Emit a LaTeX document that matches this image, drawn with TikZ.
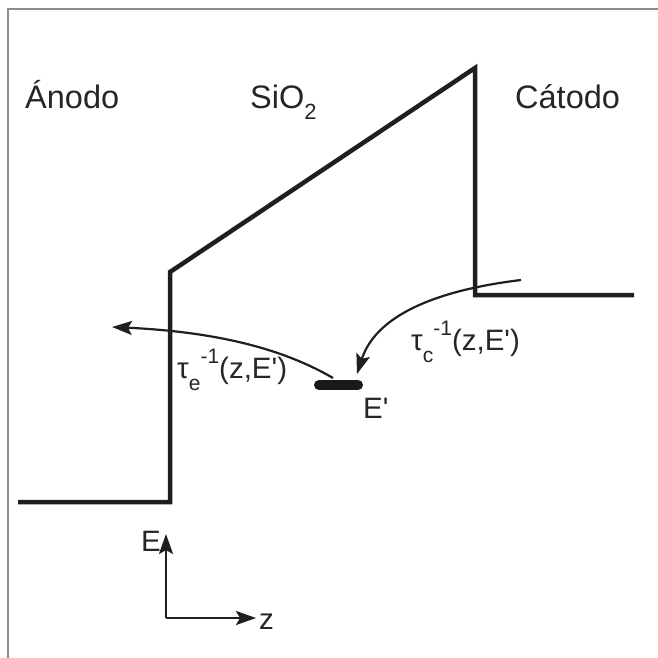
\documentclass[tikz,border=0pt]{standalone}
\usepackage{fontspec}
\newfontfamily\arialf{Liberation Sans}
\usetikzlibrary{arrows.meta}
\tikzset{
  band/.style={line width=4.5pt, draw=black!88, line join=miter},
  tipstyle/.style={-{Stealth[length=20pt,width=14pt,inset=4pt]}},
  conn/.style={line width=2.2pt, draw=black!88, tipstyle},
  axis/.style={line width=2.4pt, draw=black!88, tipstyle},
  title/.style={anchor=base west, inner sep=0pt, font=\arialf\fontsize{32.5}{38}\selectfont, text=black!85},
  lab/.style={anchor=base west, inner sep=0pt, font=\arialf\fontsize{29.5}{34}\selectfont, text=black!85},
  frameline/.style={line width=1.5pt, draw=black!45}
}
\newcommand{\smallt}[1]{{\fontsize{21}{21}\selectfont #1}}
\begin{document}
\begin{tikzpicture}[x=1pt,y=-1pt]
\useasboundingbox (0,0) rectangle (658,658);
% frame (only top and left edges visible)
\draw[frameline] (8,658) -- (8,9) -- (658,9);
% band diagram
\coordinate (b0) at (18,502);
\coordinate (b1) at (170,502);
\coordinate (b2) at (170,272);
\coordinate (b3) at (475,68);
\coordinate (b4) at (475,295);
\coordinate (b5) at (634,295);
\draw[band] (b0) -- (b1) -- (b2) -- (b3) -- (b4) -- (b5);
% trap level
\coordinate (t0) at (319,385);
\coordinate (t1) at (358,385);
\draw[line width=10pt, line cap=round, draw=black!90] (t0) -- (t1);
% labels
\node[title] (anodo) at (25,109) {Ánodo};
\node[title] (sio) at (250,109) {SiO\raisebox{-0.32em}{\fontsize{22}{22}\selectfont 2}};
\node[title] (catodo) at (515,109) {Cátodo};
\node[lab] (ep) at (363,418) {E'};
\node[lab] (tauc) at (411,350) {τ\raisebox{-0.42em}{\smallt{c}}\raisebox{0.5em}{\smallt{-1}}(z,E')};
\node[lab] (taue) at (177,378) {τ\raisebox{-0.42em}{\smallt{e}}\raisebox{0.5em}{\smallt{-1}}(z,E')};
% connectors
\coordinate (cs) at (521,280);
\coordinate (ce) at (357,374);
\draw[conn] (cs) .. controls (430,291) and (375,318) .. (ce);
\coordinate (es) at (333,378);
\coordinate (ee) at (112,327);
\draw[conn] (es) .. controls (285,350) and (220,332) .. (ee);
% axes
\coordinate (o) at (166,618);
\coordinate (ey) at (166,534);
\coordinate (zx) at (256,618);
\draw[axis] (o) -- (ey);
\draw[axis] (o) -- (zx);
\node[lab] (elab) at (141,551) {E};
\node[lab] (zlab) at (259,629) {z};
\end{tikzpicture}
\end{document}
